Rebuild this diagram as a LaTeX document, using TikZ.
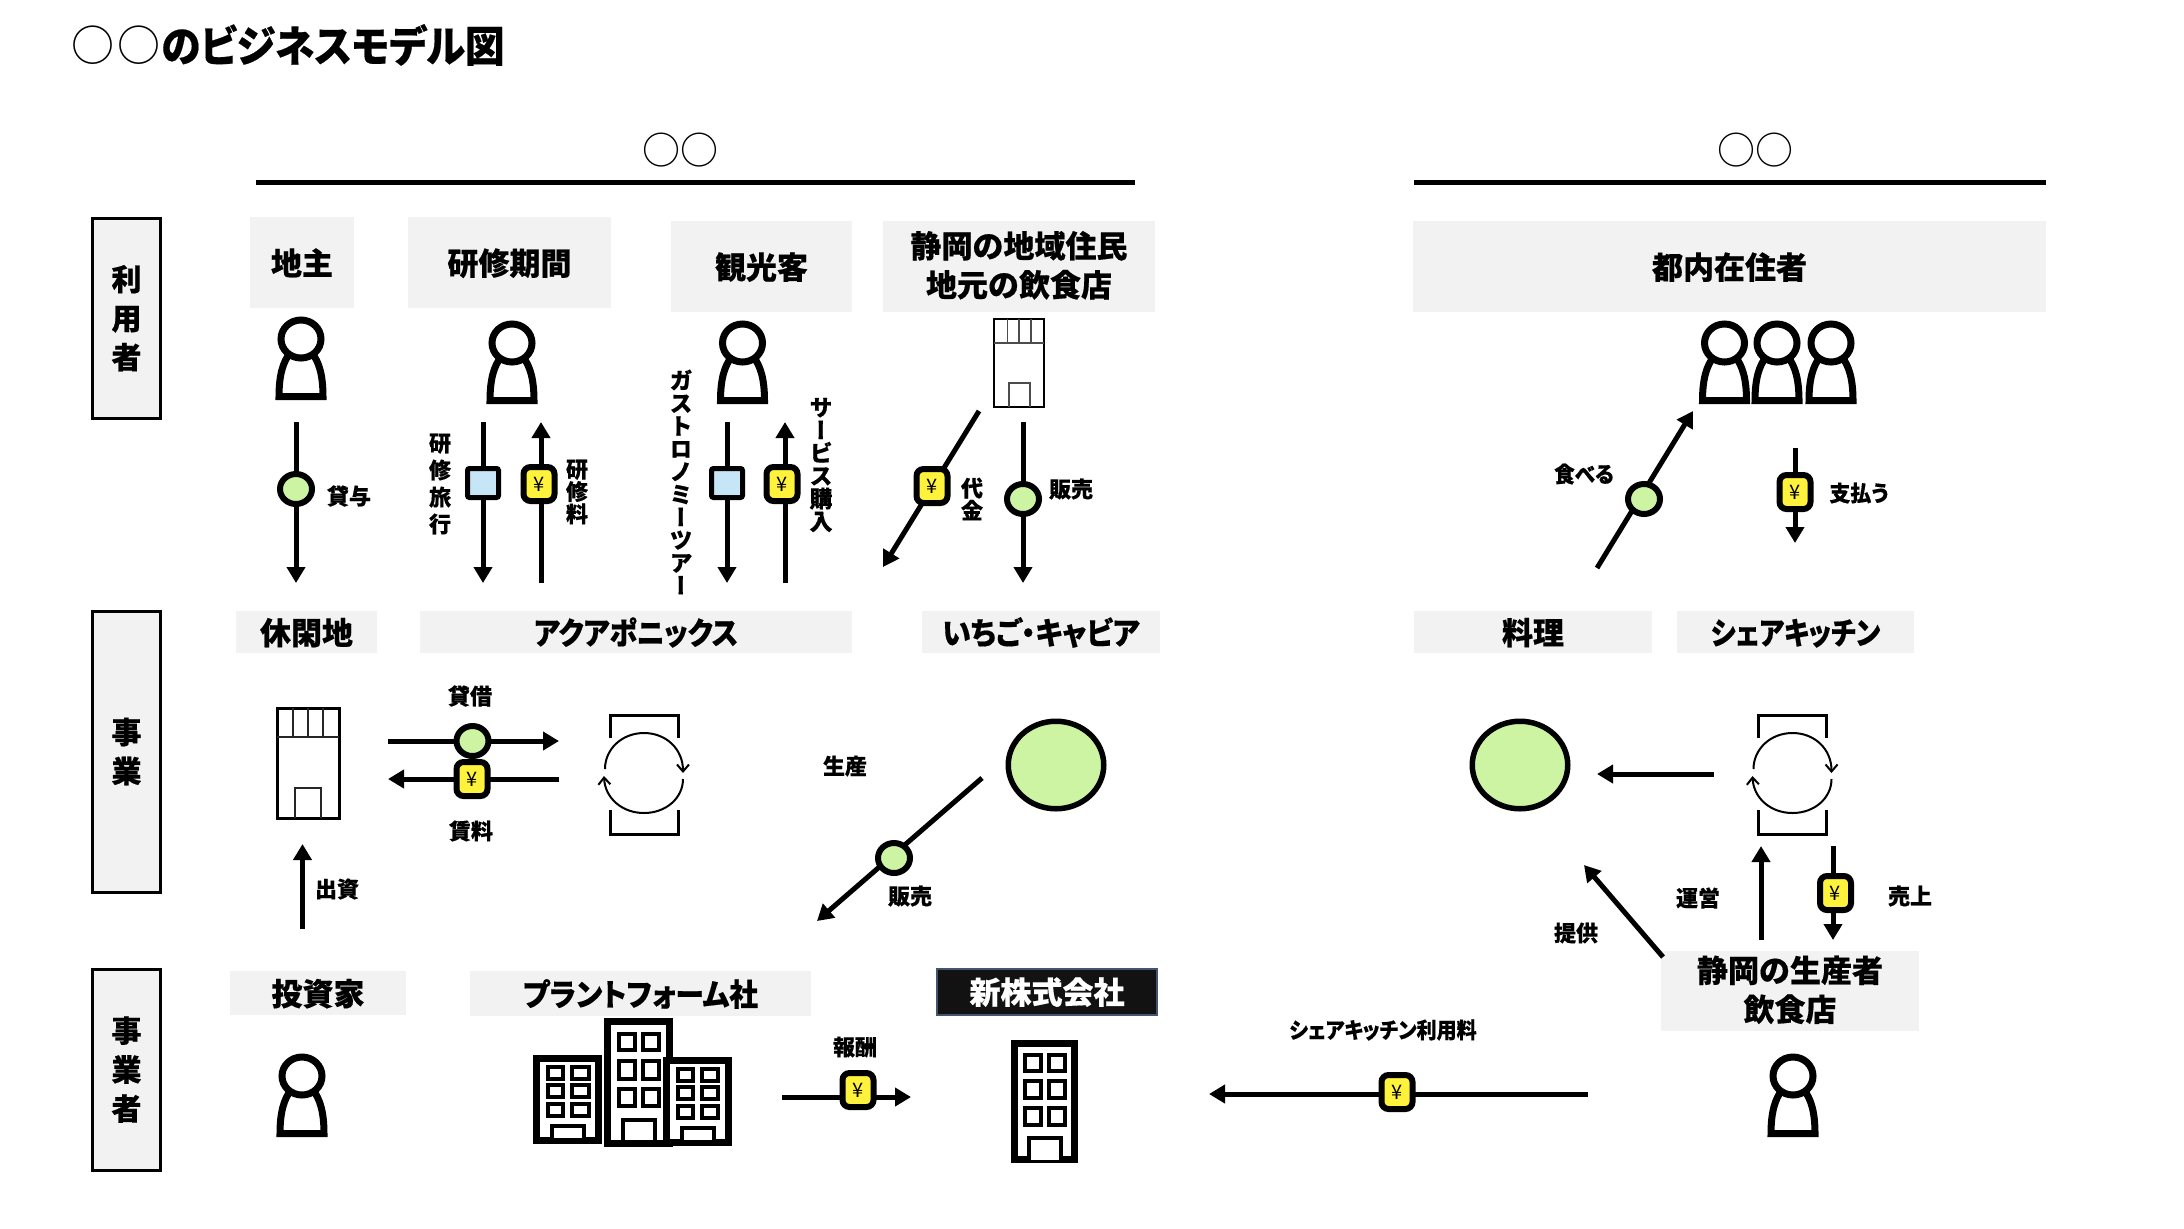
\documentclass[tikz,border=0pt]{standalone}
\usepackage{fontspec}
\usepackage{graphicx}
\setmainfont{Noto Sans CJK JP}[BoldFeatures={FakeBold=0.45}]
\newfontfamily\jpp{Noto Sans CJK JP}[RawFeature=+palt,BoldFeatures={FakeBold=0.45}]
\newfontfamily\jpv{Noto Sans CJK JP}[RawFeature=+vert,BoldFeatures={FakeBold=0.45}]
\usetikzlibrary{arrows.meta,shapes.geometric}
\definecolor{hdgray}{HTML}{F2F2F2}
\definecolor{okgreen}{HTML}{CCF4A3}
\definecolor{svcblue}{HTML}{C6E5F7}
\definecolor{yenyel}{HTML}{FFF23C}
\definecolor{slate}{HTML}{44546A}
\newcommand\hdstrut{\rule[-2.7pt]{0pt}{17.8pt}}
\newcommand\hdstrutb{\rule[-2.7pt]{0pt}{22.2pt}}
\tikzset{
  hd/.style={fill=hdgray,inner sep=0pt,align=center,font=\bfseries\fontsize{15.5}{19}\selectfont,execute at begin node=\hdstrut},
  hdb/.style={fill=hdgray,inner sep=0pt,align=center,font=\bfseries\fontsize{15.5}{19.5}\selectfont,execute at begin node=\hdstrutb},
  side/.style={fill=hdgray,draw=black,line width=1.5pt,inner sep=0pt,align=center,font=\bfseries\fontsize{15}{19.5}\selectfont},
  lab/.style={inner sep=0pt,align=center,font=\bfseries\fontsize{11}{13.5}\selectfont},
  labp/.style={inner sep=0pt,align=center,font=\jpp\bfseries\fontsize{11}{13.5}\selectfont},
  labv/.style={inner sep=0pt,align=center,font=\jpv\bfseries\fontsize{11.5}{11.4}\selectfont},
  okc/.style={ellipse,draw=black,line width=3pt,fill=okgreen,minimum width=16pt,minimum height=15pt,inner sep=0pt},
  bigc/.style={ellipse,draw=black,line width=2.75pt,fill=okgreen,minimum width=47.75pt,minimum height=43.75pt,inner sep=0pt},
  svc/.style={rectangle,draw=black,line width=2.5pt,fill=svcblue,rounded corners=1pt,minimum width=15.5pt,minimum height=14.5pt,inner sep=0pt},
  yen/.style={rectangle,draw=black,line width=3pt,fill=yenyel,rounded corners=3.5pt,minimum width=15.5pt,minimum height=17pt,inner sep=0pt,font=\fontsize{10}{11}\selectfont},
  flow/.style={line width=2.5pt,-{Triangle[length=8pt,width=9pt]}},
  rule/.style={line width=2.5pt},
  fig/.style={draw=black,fill=white,line width=3.5pt,line join=miter},
  blw/.style={draw=black,fill=white,line width=3.5pt},
  win/.style={draw=black,fill=white,line width=1.9pt},
  thinicon/.style={draw=black,line width=1.5pt,line cap=butt},
  cyca/.style={draw=black,line width=1pt,-{Straight Barb[length=3.5pt,width=6pt,line width=1pt]}},
}
\newcommand\hdrbox[6]{\node[hd,minimum width={(#4-#2)*0.5pt},minimum height={(#5-#3)*0.5pt}] (#1) at ({(#2+#4)/2},{(#3+#5)/2}) {#6};}
\newcommand\hdrboxb[6]{\node[hdb,minimum width={(#4-#2)*0.5pt},minimum height={(#5-#3)*0.5pt}] (#1) at ({(#2+#4)/2},{(#3+#5)/2}) {#6};}
\newcommand\sidebox[6]{\node[side,minimum width={(#4-#2)*0.5pt},minimum height={(#5-#3)*0.5pt}] (#1) at ({(#2+#4)/2},{(#3+#5)/2}) {#6};}
\newcommand\flowline[5]{\coordinate (#1s) at (#2,#3);\coordinate (#1e) at (#4,#5);\draw[flow] (#1s) -- (#1e);}
\newcommand\person[2]{\begin{scope}[shift={(#1,#2)}]
  \path[fig] (-22,-3.5) .. controls (-22,-25) and (-18,-38) .. (-11,-47) -- (11,-47) .. controls (18,-38) and (22,-25) .. (22,-3.5) -- cycle;
  \path[fig] (0,-61) ellipse [x radius=20,y radius=19];
\end{scope}}
\newcommand\cycle[1]{\begin{scope}[shift={(#1,0)}]
  \draw[thinicon] (610,738) -- (610,715) -- (678,715) -- (678,738);
  \draw[thinicon] (610,810) -- (610,834) -- (678,834) -- (678,810);
  \draw[cyca] (605,769) .. controls (605,749) and (622,733) .. (644,733) .. controls (666,733) and (683,749) .. (683,773);
  \draw[cyca] (683,779) .. controls (683,798) and (666,813) .. (644,813) .. controls (622,813) and (605,798) .. (604,776);
\end{scope}}
\newcommand\office[6]{% x1 y1 x2 y2 window-x-list window-y-list
  \path[blw] (#1+3.5,#2+3.5) rectangle (#3-3.5,#4-3.5);
  \foreach \wx/\wxb in {#5} \foreach \wy/\wyb in {#6} {\path[win] (\wx+2,\wy+2) rectangle (\wxb-2,\wyb-2);}
}
\begin{document}
\begin{tikzpicture}[x=0.5pt,y=-0.5pt]
\useasboundingbox (0,0) rectangle (2184,1228);
\fill[white] (0,0) rectangle (2184,1228);
% title
\node[anchor=west,inner sep=0pt,font=\fontsize{21.5}{24}\selectfont] (title) at (71,45) {○\hspace{1.5pt}○\hspace{.5pt}\scalebox{.92}[1]{\jpp\bfseries のビジネスモデル図}};
% top groups
\node[inner sep=0pt,font=\fontsize{19}{22}\selectfont] (g1) at (680,150) {○○};
\node[inner sep=0pt,font=\fontsize{19}{22}\selectfont] (g2) at (1755,150) {○○};
\coordinate (r1a) at (256,182); \coordinate (r1b) at (1135,182);
\coordinate (r2a) at (1414,182); \coordinate (r2b) at (2046,182);
\draw[rule] (r1a) -- (r1b);
\draw[rule] (r2a) -- (r2b);
% side boxes
\sidebox{s1}{92.5}{218.5}{160.5}{418}{利\\用\\者}
\sidebox{s2}{92.5}{611}{160.5}{892}{事\\業}
\sidebox{s3}{92.5}{969}{160.5}{1170}{事\\業\\者}
% headers row 1
\hdrbox{h1}{250}{217}{354}{308}{地主}
\hdrbox{h2}{408}{217}{611}{308}{研修期間}
\hdrbox{h3}{671}{221}{852}{312}{観光客}
\hdrboxb{h4}{883}{221}{1155}{312}{静岡の地域住民\\地元の飲食店}
\hdrbox{h5}{1413}{221}{2046}{312}{都内在住者}
% headers row 2
\hdrbox{h6}{236}{611}{377}{653}{休閑地}
\hdrbox{h7}{420}{611}{852}{653}{\scalebox{.9}[1]{\jpp\bfseries アクアポニックス}}
\hdrbox{h8}{922}{611}{1160}{653}{\scalebox{.93}[1]{\jpp\bfseries いちご・キャビア}}
\hdrbox{h9}{1414}{611}{1652}{653}{料理}
\hdrbox{h10}{1677}{611}{1914}{653}{\scalebox{.86}[1]{\jpp\bfseries シェアキッチン}}
% headers row 3
\hdrbox{h11}{230}{971}{406}{1015}{投資家}
\hdrbox{h12}{470}{971}{811}{1016}{\scalebox{.93}[1]{\jpp\bfseries プラントフォーム社}}
\node[hd,fill=black!93,draw=slate,line width=1pt,minimum width=110pt,minimum height=23pt,text=white] (h13) at (1047,991.5) {新株式会社};
\hdrboxb{h14}{1661}{951}{1919}{1031}{静岡の生産者\\飲食店}
% persons
\person{301}{400}
\person{512}{404}
\person{742.5}{404}
\person{1724.5}{404}
\person{1777}{404}
\person{1831}{404}
\person{302}{1137}
\person{1793}{1137}
% small shop, row 1
\path[draw=black,fill=white,line width=1pt] (994,319) rectangle (1044,407);
\draw[black!70,line width=.7pt] (994,343) -- (1044,343) (1007.5,319) -- (1007.5,343) (1019,319) -- (1019,343) (1031,319) -- (1031,343) (1009,407) -- (1009,383) -- (1030,383) -- (1030,407);
% shop, row 2
\path[draw=black,fill=white,line width=1.5pt] (277,708) rectangle (339,818);
\draw[black!85,line width=.9pt] (277,737) -- (339,737) (293,708) -- (293,737) (308,708) -- (308,737) (323,708) -- (323,737) (295,818) -- (295,788) -- (321,788) -- (321,818);
% offices
\office{533}{1055}{602}{1144}{546/565,570/591}{1065/1081,1083/1099,1102/1118}
\path[win,line width=2pt] (552,1138) -- (552,1126) -- (584,1126) -- (584,1138);
\office{604}{1018}{673}{1147}{617/637,641/661}{1032/1052,1059/1081,1087/1108}
\path[win,line width=2pt] (623,1140) -- (623,1120) -- (655,1120) -- (655,1140);
\office{663}{1057}{732}{1146}{676/695,700/720}{1067/1083,1085/1101,1104/1120}
\path[win,line width=2pt] (682,1140) -- (682,1128) -- (714,1128) -- (714,1140);
\office{1011}{1040}{1078}{1163}{1023/1043,1047/1067}{1053/1073,1079/1100,1106/1127}
\path[win,line width=2pt] (1029,1160) -- (1029,1138) -- (1061,1138) -- (1061,1160);
% cycle icons
\cycle{0}
\cycle{1148.5}
% big ovals
\node[bigc] (o1) at (1056,765) {};
\node[bigc] (o2) at (1520,765) {};
% row 1 flows
\flowline{f1}{296}{422}{296}{583}
\node[okc] (m1) at (296,489) {};
\node[lab] (l1) at (349,496) {貸与};
\flowline{f2}{483}{422}{483}{583}
\node[svc] (m2) at (483,483) {};
\node[lab] (l2) at (440,484) {研\\修\\旅\\行};
\flowline{f3}{541}{583}{541}{422}
\node[yen] (m3) at (539,484) {¥};
\node[lab,font=\bfseries\fontsize{11}{11.2}\selectfont] (l3) at (577,492) {研\\修\\料};
\flowline{f4}{727}{422}{727}{583}
\node[svc] (m4) at (727,483) {};
\node[labv] (l4) at (681,482) {ガ\\ス\\ト\\ロ\\ノ\\ミ\\ー\\ツ\\ア\\ー};
\flowline{f5}{785}{583}{785}{422}
\node[yen] (m5) at (782,484) {¥};
\node[labv] (l5) at (821,465) {サ\\ー\\ビ\\ス\\購\\入};
\flowline{f6}{979}{411}{883}{567}
\node[yen] (m6) at (932,486) {¥};
\node[lab,font=\bfseries\fontsize{11}{11.2}\selectfont] (l6) at (972,499) {代\\金};
\flowline{f7}{1023}{422}{1023}{583}
\node[okc] (m7) at (1023,499) {};
\node[lab] (l7) at (1071,489) {販売};
% right row 1 flows
\flowline{f8}{1597}{568}{1693}{411}
\node[okc] (m8) at (1644,499) {};
\node[labp] (l8) at (1584,474) {\scalebox{.93}[1]{\jpp\bfseries 食べる}};
\flowline{f9}{1795}{448}{1795}{543}
\node[yen] (m9) at (1795,492) {¥};
\node[labp] (l9) at (1859,493) {\scalebox{.95}[1]{\jpp\bfseries 支払う}};
% row 2 flows
\flowline{f10}{388}{741}{559}{741}
\flowline{f11}{559}{779}{388}{779}
\node[okc] (m10) at (472.5,741) {};
\node[yen] (m11) at (472,779) {¥};
\node[lab] (l10) at (470,696) {貸借};
\node[lab] (l11) at (471,831) {賃料};
\flowline{f12}{302.5}{929}{302.5}{844}
\node[lab] (l12) at (337,889) {出資};
\flowline{f13}{982}{778}{817}{921}
\node[okc] (m13) at (894,858) {};
\node[lab] (l13) at (845,766) {生産};
\node[lab] (l14) at (910,896) {販売};
\flowline{f14}{1714}{774}{1597}{774}
\flowline{f15}{1761}{940}{1761}{846}
\node[lab] (l15) at (1698,898) {運営};
\flowline{f16}{1833}{846}{1833}{940}
\node[yen] (m16) at (1835.5,893) {¥};
\node[lab] (l16) at (1910,896) {売上};
\flowline{f17}{1663}{957}{1584}{865}
\node[lab] (l17) at (1576,933) {提供};
% bottom flows
\flowline{f18}{782}{1097}{911}{1097}
\node[yen] (m18) at (858,1090) {¥};
\node[lab] (l18) at (855,1047) {報酬};
\flowline{f19}{1588}{1094}{1209}{1094}
\node[yen] (m19) at (1397,1092) {¥};
\node[labp] (l19) at (1383,1030) {\scalebox{.91}[1]{\jpp\bfseries シェアキッチン利用料}};
\end{tikzpicture}
\end{document}
